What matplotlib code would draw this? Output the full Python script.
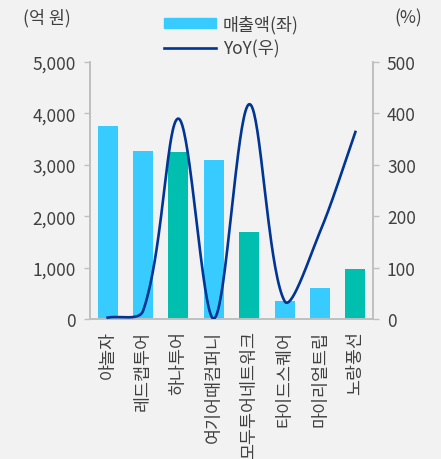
import numpy as np
import matplotlib.pyplot as plt
from matplotlib.patches import Patch
from matplotlib.lines import Line2D

plt.rcParams['font.family'] = ['Noto Sans CJK KR', 'DejaVu Sans']

# data
companies = ['야놀자', '레드캡투어', '하나투어', '여기어때컴퍼니',
             '모두투어네트워크', '타이드스퀘어', '마이리얼트립', '노랑풍선']
sales = [3755, 3268, 3250, 3093, 1693, 350, 603, 973]
yoy = [3, 16, 390, 1, 418, 35, 170, 364]
listed = [False, False, True, False, True, False, False, True]

c_light = '#38CBFF'
c_teal = '#00BFAE'
c_line = '#003594'
c_text = '#404040'
c_axis = '#BFBFBF'
bg = '#F2F2F2'


def smooth(x, y, sx=35.4, sy=0.514, n=40):
    # smoothed line like excel: bezier with tangents weighted by segment length
    # (lengths measured in pixels, sx / sy = pixels per data unit)
    P = np.column_stack([np.asarray(x, float) * sx, np.asarray(y, float) * sy])
    m = len(P)
    d = np.linalg.norm(np.diff(P, axis=0), axis=1)
    T = np.zeros_like(P)
    T[0] = P[1] - P[0]
    T[-1] = P[-1] - P[-2]
    for i in range(1, m - 1):
        T[i] = P[i + 1] - P[i - 1]
    out = []
    t = np.linspace(0, 1, n)[:, None]
    for i in range(m - 1):
        if i == 0:
            a = T[i] / 3
        else:
            a = T[i] * d[i] / (d[i - 1] + d[i]) / 3
        if i + 1 == m - 1:
            b = T[i + 1] / 3
        else:
            b = T[i + 1] * d[i] / (d[i] + d[i + 1]) / 3
        p0, p1, p2, p3 = P[i], P[i] + a, P[i + 1] - b, P[i + 1]
        seg = ((1 - t) ** 3 * p0 + 3 * (1 - t) ** 2 * t * p1
               + 3 * (1 - t) * t ** 2 * p2 + t ** 3 * p3)
        out.append(seg)
    out = np.vstack(out)
    return out[:, 0] / sx, out[:, 1] / sy


fig = plt.figure(figsize=(4.41, 4.6), dpi=100, facecolor=bg)
ax = fig.add_axes([0.204, 0.304, 0.642, 0.559], facecolor=bg)
ax2 = ax.twinx()

x = np.arange(len(companies))
colors = [c_teal if l else c_light for l in listed]
ax.bar(x, sales, width=0.565, color=colors, zorder=2)

lx, ly = smooth(x, yoy)
ax2.plot(lx, ly, color=c_line, lw=1.9, zorder=3)

ax.set_xlim(-0.5, len(companies) - 0.5)
ax.set_ylim(0, 5000)
ax2.set_ylim(0, 500)
ax.set_yticks(np.arange(0, 5001, 1000))
ax.set_yticklabels([f'{v:,}' for v in range(0, 5001, 1000)])
ax2.set_yticks(np.arange(0, 501, 100))

ax.set_xticks(x)
ax.set_xticklabels(companies, rotation=90)

for a in (ax, ax2):
    a.spines['top'].set_visible(False)
    for s in ('left', 'right', 'bottom'):
        a.spines[s].set_color(c_axis)
        a.spines[s].set_linewidth(1.2)
    a.tick_params(colors=c_text, labelsize=12.5, length=4, width=1, pad=6)
    a.tick_params(axis='y', color=c_axis)
ax.tick_params(axis='x', length=0, pad=8)

fig.text(0.107, 0.96, '(억 원)', ha='center', va='center', fontsize=12.5, color=c_text)
fig.text(0.925, 0.96, '(%)', ha='center', va='center', fontsize=12.5, color=c_text)

handles = [Patch(color=c_light), Line2D([], [], color=c_line, lw=1.9)]
fig.legend(handles, ['매출액(좌)', 'YoY(우)'], loc='upper center',
           bbox_to_anchor=(0.525, 1.0), frameon=False, fontsize=12.5,
           labelcolor=c_text, handlelength=3.0, handleheight=0.5,
           labelspacing=0.35, handletextpad=0.4)

fig.savefig('out.png', dpi=100, facecolor=bg)
